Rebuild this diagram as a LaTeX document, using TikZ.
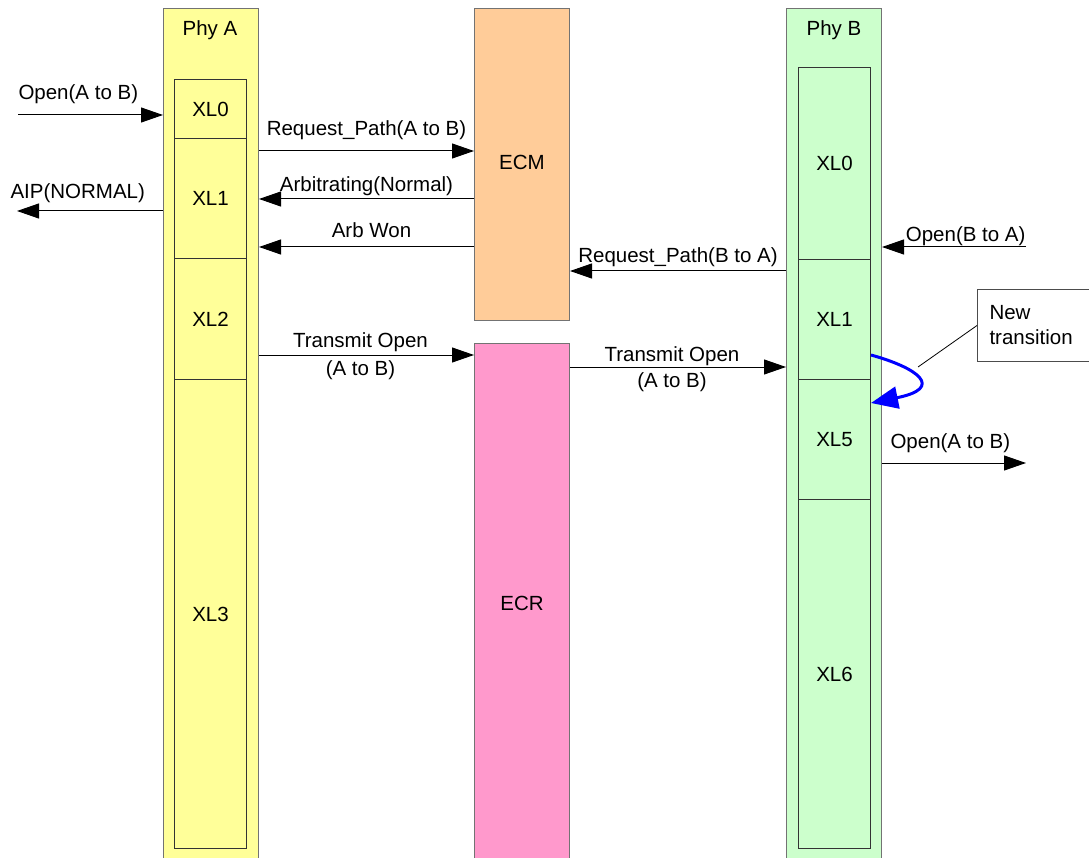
\documentclass[tikz,border=0pt]{standalone}
\usepackage{fontspec}
\setmainfont{Liberation Sans}
\usetikzlibrary{arrows.meta,calc,positioning}

\definecolor{phyayellow}{HTML}{FFFF99}
\definecolor{ecmorange}{HTML}{FFCC99}
\definecolor{ecrpink}{HTML}{FF99CC}
\definecolor{phybgreen}{HTML}{CCFFCC}

\begin{document}
\begin{tikzpicture}[
    x=1pt, y=-1pt,
    font=\fontsize{20.5}{25}\selectfont,
    column/.style={draw=black!55, line width=1pt, minimum width=95pt, inner sep=0pt, anchor=north west},
    xl/.style={draw=black!80, line width=1pt, minimum width=72pt, inner sep=0pt, anchor=north west},
    msg/.style={draw=black, line width=1pt, -{Triangle[length=22pt,width=15pt]}},
    lbl/.style={anchor=base, inner sep=0pt},
    newtrans/.style={draw=blue, line width=3pt, -{Triangle[length=27pt,width=22pt]}},
    notebox/.style={draw=black!70, line width=1pt, fill=white, anchor=north west, minimum width=116pt, minimum height=72pt, text width=95pt, inner xsep=12pt, align=left}
]
    \useasboundingbox (0,0) rectangle (1089,858);

    % Columns
    \node[column, fill=phyayellow, minimum height=860pt] (phyA) at (163,8) {};
    \node[column, fill=ecmorange, minimum height=312pt] (ecm) at (474,8) {};
    \node[column, fill=ecrpink, minimum height=525pt] (ecr) at (474,343) {};
    \node[column, fill=phybgreen, minimum height=860pt] (phyB) at (786,8) {};

    \node (phyAlabel) at (210,30) {Phy A};
    \node (phyBlabel) at (834,30) {Phy B};
    \node (ecmlabel) at (522,162) {ECM};
    \node (ecrlabel) at (522,603) {ECR};

    % Phy A states
    \node[xl, minimum height=59pt] (aXL0) at (174,79) {XL0};
    \node[xl, minimum height=120pt] (aXL1) at (174,138) {XL1};
    \node[xl, minimum height=121pt] (aXL2) at (174,258) {XL2};
    \node[xl, minimum height=469pt] (aXL3) at (174,379) {XL3};

    % Phy B states
    \node[xl, minimum height=192pt] (bXL0) at (798,67) {XL0};
    \node[xl, minimum height=120pt] (bXL1) at (798,259) {XL1};
    \node[xl, minimum height=120pt] (bXL5) at (798,379) {XL5};
    \node[xl, minimum height=349pt] (bXL6) at (798,499) {XL6};

    % Outside ends
    \coordinate (openAin) at (18,115);
    \coordinate (aipout) at (17,211);
    \coordinate (openBin) at (1026,247);
    \coordinate (openBout) at (1026,463);

    % Messages
    \draw[msg] (openAin) -- (openAin -| phyA.west)
        node[pos=0, lbl, anchor=base west, yshift=15pt] {Open(A to B)};
    \draw[msg] (aipout -| phyA.west) -- (aipout)
        node[pos=1, lbl, anchor=base west, xshift=-7pt, yshift=12pt] {AIP(NORMAL)};
    \draw[msg] (phyA.east |- 0,151) -- (ecm.west |- 0,151)
        node[midway, lbl, yshift=15pt] {Request\_Path(A to B)};
    \draw[msg] (ecm.west |- 0,199) -- (phyA.east |- 0,199)
        node[midway, lbl, yshift=7pt] {Arbitrating(Normal)};
    \draw[msg] (ecm.west |- 0,247) -- (phyA.east |- 0,247)
        node[midway, lbl, xshift=5pt, yshift=9pt] {Arb Won};
    \draw[msg] (phyB.west |- 0,271) -- (ecm.east |- 0,271)
        node[midway, lbl, yshift=8pt] {Request\_Path(B to A)};
    \draw[msg] (openBin) -- (openBin -| phyB.east)
        node[pos=0, lbl, anchor=base east, yshift=5pt] {Open(B to A)};
    \draw[msg] (phyA.east |- 0,355) -- (ecr.west |- 0,355)
        node[midway, lbl, xshift=-6pt, yshift=7pt] {Transmit Open}
        node[midway, lbl, xshift=-6pt, yshift=-20pt] {(A to B)};
    \draw[msg] (ecr.east |- 0,367) -- (phyB.west |- 0,367)
        node[midway, lbl, xshift=-6pt, yshift=6pt] {Transmit Open}
        node[midway, lbl, xshift=-6pt, yshift=-20pt] {(A to B)};
    \draw[msg] (openBout -| phyB.east) -- (openBout)
        node[pos=0, lbl, anchor=base west, xshift=8pt, yshift=15pt] {Open(A to B)};

    % New transition XL1 -> XL5
    \draw[newtrans] (bXL1.east |- 0,355) .. controls (918,368) and (945,388) .. (bXL5.east |- 0,403);

    \node[notebox] (note) at (977,289) {New\\transition};
    \coordinate (noteend) at (918,367);
    \draw[line width=0.8pt] (note.west) -- (noteend);
\end{tikzpicture}
\end{document}
